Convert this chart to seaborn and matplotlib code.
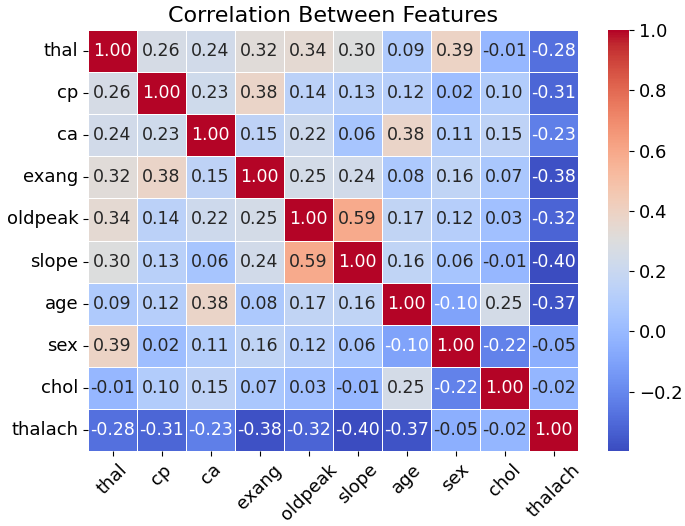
import numpy as np
import pandas as pd
import matplotlib
matplotlib.use("Agg")
import matplotlib.pyplot as plt
import seaborn as sns

features = ["thal", "cp", "ca", "exang", "oldpeak", "slope", "age", "sex", "chol", "thalach"]
thal    = [1.00, 0.26, 0.24, 0.32, 0.34, 0.30, 0.09, 0.39, -0.01, -0.28]
cp      = [0.26, 1.00, 0.23, 0.38, 0.14, 0.13, 0.12, 0.02, 0.10, -0.31]
ca      = [0.24, 0.23, 1.00, 0.15, 0.22, 0.06, 0.38, 0.11, 0.15, -0.23]
exang   = [0.32, 0.38, 0.15, 1.00, 0.25, 0.24, 0.08, 0.16, 0.07, -0.38]
oldpeak = [0.34, 0.14, 0.22, 0.25, 1.00, 0.59, 0.17, 0.12, 0.03, -0.32]
slope   = [0.30, 0.13, 0.06, 0.24, 0.59, 1.00, 0.16, 0.06, -0.01, -0.40]
age     = [0.09, 0.12, 0.38, 0.08, 0.17, 0.16, 1.00, -0.10, 0.25, -0.37]
sex     = [0.39, 0.02, 0.11, 0.16, 0.12, 0.06, -0.10, 1.00, -0.22, -0.05]
chol    = [-0.01, 0.10, 0.15, 0.07, 0.03, -0.01, 0.25, -0.22, 1.00, -0.02]
thalach = [-0.28, -0.31, -0.23, -0.38, -0.32, -0.40, -0.37, -0.05, -0.02, 1.00]

corr = pd.DataFrame([thal, cp, ca, exang, oldpeak, slope, age, sex, chol, thalach],
                    index=features, columns=features)

W, H = 685, 526
fig = plt.figure(figsize=(W / 100, H / 100), dpi=100)
ax = fig.add_axes([88 / W, (H - 451) / H, (578 - 88) / W, (451 - 30) / H])
cax = fig.add_axes([608 / W, (H - 451) / H, 21 / W, (451 - 30) / H])

sns.heatmap(corr, annot=True, fmt=".2f", cmap="coolwarm", linewidths=0.5,
            linecolor="white", vmin=-0.397, vmax=1.0,
            ax=ax, cbar_ax=cax, annot_kws={"size": 12.5})
ax.set_title("Correlation Between Features", fontsize=16)
ax.tick_params(axis="both", labelsize=13)
plt.setp(ax.get_xticklabels(), rotation=45)
plt.setp(ax.get_yticklabels(), rotation=0)
cax.tick_params(labelsize=13)
fig.savefig("out.png", dpi=100)
